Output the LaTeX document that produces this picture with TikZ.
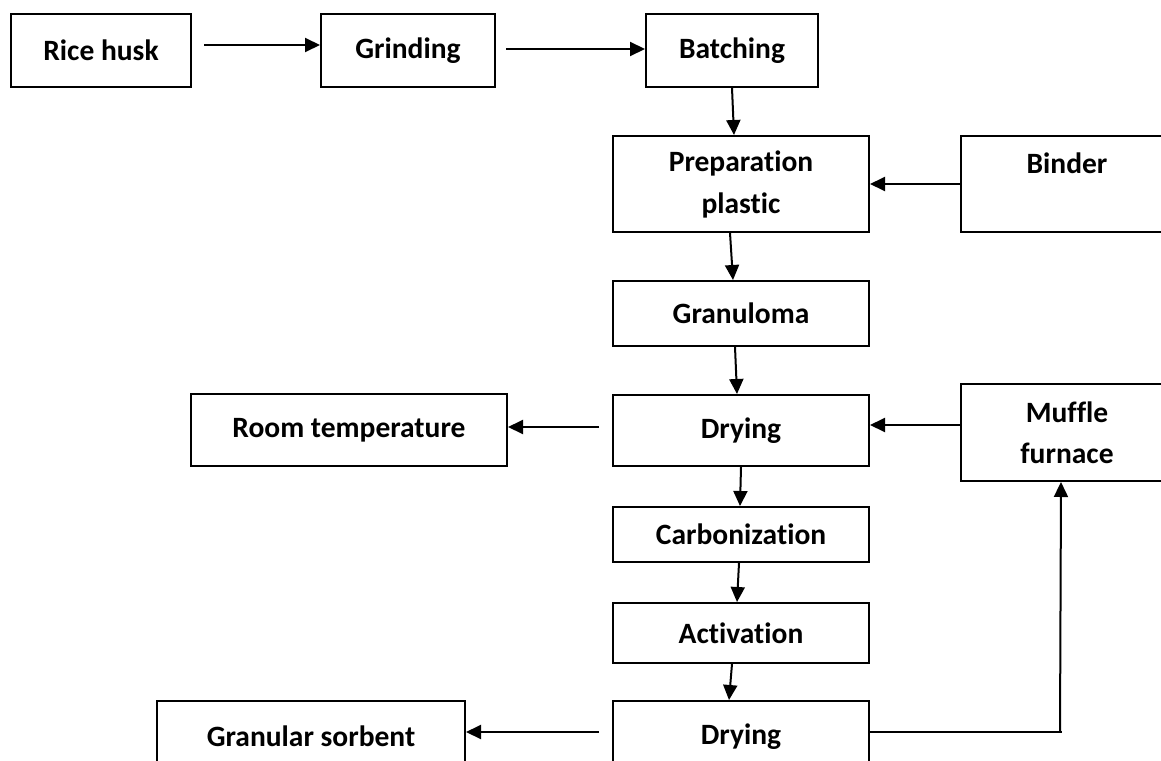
\documentclass[tikz,border=0pt]{standalone}
\usepackage{fontspec}
\setmainfont{Carlito}[Ligatures=NoCommon]
\usetikzlibrary{arrows.meta}
\begin{document}
\begin{tikzpicture}[x=1pt,y=-1pt,
  box/.style={draw=black, line width=2pt, inner sep=0pt, align=center,
    font=\bfseries\fontsize{29.5}{41}\selectfont},
  flow/.style={line width=2pt, -{Triangle[length=15pt,width=14pt]}},
  plain/.style={line width=2pt}]
\clip (0,0) rectangle (1161,760);
% top row
\node[box, minimum width=180pt, minimum height=73pt] (rice) at (101,50.5) {Rice husk};
\node[box, minimum width=174pt, minimum height=73pt] (grind) at (408,50.5) {Grinding};
\node[box, minimum width=172pt, minimum height=73pt] (bat) at (732,50.5) {Batching};
% main column
\node[box, minimum width=256pt, minimum height=96pt] (prep) at (741,184) {Preparation\\[1pt]plastic};
\node[box, minimum width=212pt, minimum height=96pt] (binder) at (1067,184) {Binder\\\mbox{}};
\node[box, minimum width=256pt, minimum height=65pt] (gran) at (741,313.5) {Granuloma};
\node[box, minimum width=256pt, minimum height=71pt] (dry1) at (741,430.5) {Drying};
\node[box, minimum width=212pt, minimum height=97pt] (muf) at (1067,432.5) {Muffle\\furnace};
\node[box, minimum width=316pt, minimum height=72pt] (room) at (349,430) {Room temperature};
\node[box, minimum width=256pt, minimum height=55pt] (carb) at (741,534.5) {Carbonization};
\node[box, minimum width=256pt, minimum height=60pt] (act) at (741,633) {Activation};
\node[box, minimum width=256pt, minimum height=71pt] (dry2) at (741,736.5) {Drying};
\node[box, minimum width=308pt, minimum height=71pt] (gs) at (311,736.5) {Granular sorbent};
% connectors
\draw[flow, shorten <=12pt] ([yshift=5.5pt]rice.east) -- ([yshift=5.5pt]grind.west);
\draw[flow, shorten <=10pt] ([yshift=1.5pt]grind.east) -- ([yshift=1.5pt]bat.west);
\draw[flow] (bat.south) -- ([xshift=2pt]bat.south |- prep.north);
\draw[flow] (binder.west) -- (prep.east);
\draw[flow] ([xshift=-11pt]prep.south) -- ([xshift=-8pt]gran.north);
\draw[flow] ([xshift=-6pt]gran.south) -- ([xshift=-4pt]dry1.north);
\draw[flow] ([yshift=5.5pt]muf.west |- dry1.east) -- ([yshift=5.5pt]dry1.east);
\draw[flow, shorten <=13pt] ([yshift=3.5pt]dry1.west) -- ([yshift=3.5pt]dry1.west -| room.east);
\draw[flow] (dry1.south) -- ([xshift=-1pt]carb.north);
\draw[flow] ([xshift=-2pt]carb.south) -- ([xshift=-4pt]act.north);
\draw[flow] ([xshift=-9pt]act.south) -- ([xshift=-12pt]dry2.north);
\draw[flow, shorten <=13pt] ([yshift=4.5pt]dry2.west) -- ([yshift=4.5pt]dry2.west -| gs.east);
\coordinate (corner) at ([xshift=-7pt,yshift=4.5pt]muf.south |- dry2.east);
\draw[plain] ([yshift=4.5pt]dry2.east) -- ([xshift=2pt]corner);
\draw[flow] (corner) -- ([xshift=-6pt]muf.south);
\end{tikzpicture}
\end{document}
